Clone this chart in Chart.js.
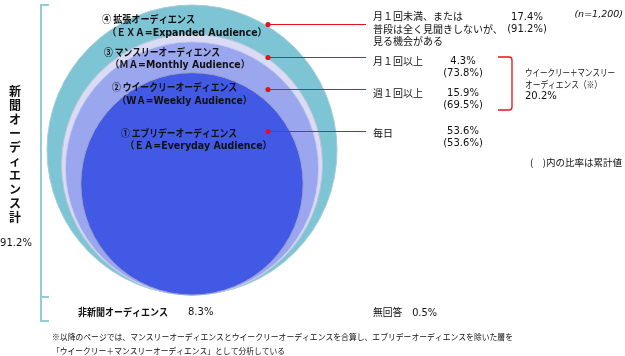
<!DOCTYPE html>
<html><head><meta charset="utf-8">
<script src="https://cdn.jsdelivr.net/npm/chart.js@4"></script>
<style>html,body{margin:0;padding:0;background:#fff}#wrap{position:relative;width:625px;height:356px}</style>
</head><body><div id="wrap"><canvas id="c"></canvas></div>
<script>
// ---- data ----
const categories = ['④ 拡張オーディエンス', '③ マンスリーオーディエンス', '② ウイークリーオーディエンス', '① エブリデーオーディエンス'];
const categoriesEn = ['（ＥＸＡ=Expanded Audience）', '（ＭＡ=Monthly Audience）', '（WＡ=Weekly Audience）', '（ＥＡ=Everyday Audience）'];
const frequencies = [['月１回未満、または', '普段は全く見聞きしないが、', '見る機会がある'], ['月１回以上'], ['週１回以上'], ['毎日']];
const shares = [17.4, 4.3, 15.9, 53.6];
const cumulative = [91.2, 73.8, 69.5, 53.6];
const totalLabel = '新聞オーディエンス計';
const totalValue = 91.2;
const nonAudienceLabel = '非新聞オーディエンス';
const nonAudienceValue = 8.3;
const noAnswerLabel = '無回答';
const noAnswerValue = 0.5;
const combinedLabel = ['ウイークリー＋マンスリー', 'オーディエンス（※）'];
const combinedValue = 20.2;
const sampleNote = '(n=1,200)';
const cumNote = '(　)内の比率は累計値';
const footnotes = ['※以降のページでは、マンスリーオーディエンスとウイークリーオーディエンスを合算し、エブリデーオーディエンスを除いた層を', '「ウイークリー＋マンスリーオーディエンス」として分析している'];

const fillColors = ['#7dc4d5', '#dadcf6', '#9aa6ee', '#4259e6'];
const borderColors = ['#a6ccd4', '#c2c5d6', '#c9cdf3', '#9aa0c8'];

const radii = cumulative.map(v => Math.sqrt(v));
const Rmax = radii[0];

const JP = '"Noto Sans CJK JP", sans-serif';
const MIX = '"DejaVu Sans", "Noto Sans CJK JP", sans-serif';

function txt(ctx, s, x, y, font, opts = {}) {
  ctx.save();
  ctx.font = font;
  ctx.fillStyle = opts.color || '#111';
  ctx.textBaseline = 'middle';
  ctx.textAlign = opts.align || 'left';
  if (opts.w) ctx.fillText(s, x, y, opts.w); else ctx.fillText(s, x, y);
  ctx.restore();
}

const overlay = {
  id: 'overlay',
  afterDraw(chart) {
    const ctx = chart.ctx;
    const lab = [[102, 19, 93, 107, 33, 160], [104, 52, 116, 110, 65, 140], [112, 87, 125, 117, 101, 135], [121, 133, 116, 125, 146, 147]];
    lab.forEach((p, i) => {
      txt(ctx, categories[i], p[0], p[1], 'bold 10.5px ' + JP, {w: p[2]});
      txt(ctx, categoriesEn[i], p[3], p[4], 'bold 10px ' + MIX, {w: p[5]});
    });
    const leadY = [24, 57, 89, 131];
    ctx.save();
    ctx.strokeStyle = '#e8101c'; ctx.fillStyle = '#e8101c'; ctx.lineWidth = 1;
    leadY.forEach(y => {
      ctx.beginPath(); ctx.moveTo(268, y + 0.5); ctx.lineTo(366, y + 0.5); ctx.stroke();
      ctx.beginPath(); ctx.arc(268, y + 0.5, 2.6, 0, Math.PI * 2); ctx.fill();
    });
    ctx.lineWidth = 1.3;
    ctx.beginPath();
    ctx.moveTo(498, 57); ctx.lineTo(509, 57); ctx.quadraticCurveTo(512, 57, 512, 60);
    ctx.lineTo(512, 107); ctx.quadraticCurveTo(512, 110, 509, 110); ctx.lineTo(498, 110);
    ctx.stroke();
    ctx.restore();
    ctx.save();
    ctx.strokeStyle = '#93ccd8'; ctx.lineWidth = 2;
    ctx.beginPath();
    ctx.moveTo(49, 5); ctx.lineTo(41, 5); ctx.lineTo(41, 321); ctx.lineTo(49, 321);
    ctx.moveTo(41, 297); ctx.lineTo(49, 297);
    ctx.stroke();
    ctx.restore();
    const fy = [[16, 29, 41], [61], [93], [133]];
    frequencies.forEach((lines, i) => lines.forEach((s, j) => txt(ctx, s, 373, fy[i][j], '10px ' + JP)));
    const pct = [[527, 17, 29], [463, 61, 73], [463, 93, 105], [463, 131, 143]];
    pct.forEach((p, i) => {
      txt(ctx, shares[i].toFixed(1) + '%', p[0], p[1], '10px ' + MIX, {align: 'center'});
      txt(ctx, '(' + cumulative[i].toFixed(1) + '%)', p[0], p[2], '10px ' + MIX, {align: 'center'});
    });
    txt(ctx, sampleNote, 623, 15, 'italic 9.5px ' + MIX, {align: 'right'});
    txt(ctx, combinedLabel[0], 525, 72, '9.5px ' + JP, {w: 90});
    txt(ctx, combinedLabel[1], 525, 84, '9.5px ' + JP, {w: 77});
    txt(ctx, combinedValue.toFixed(1) + '%', 525, 96, '10px ' + MIX);
    txt(ctx, cumNote, 622, 162, '9.5px ' + JP, {align: 'right', w: 92});
    const chars = Array.from(totalLabel);
    chars.forEach((ch, i) => txt(ctx, ch, 15, 91 + i * 14.1, 'bold 12px ' + JP, {align: 'center'}));
    txt(ctx, totalValue.toFixed(1) + '%', 16, 243, '10px ' + MIX, {align: 'center'});
    txt(ctx, nonAudienceLabel, 78, 312, 'bold 10px ' + JP, {w: 90});
    txt(ctx, nonAudienceValue.toFixed(1) + '%', 188, 312, '10px ' + MIX);
    txt(ctx, noAnswerLabel + '　' + noAnswerValue.toFixed(1) + '%', 373, 313, '10px ' + MIX, {w: 64});
    txt(ctx, footnotes[0], 52, 337, '8.5px ' + JP, {w: 461});
    txt(ctx, footnotes[1], 52, 351, '8.5px ' + JP, {w: 233});
  }
};

const chart = new Chart(document.getElementById('c'), {
  type: 'bubble',
  data: {
    labels: categories,
    datasets: [{
      data: radii.map(r => ({x: 0, y: r, r: 0})),
      backgroundColor: fillColors,
      borderColor: borderColors,
      borderWidth: 1,
      clip: false
    }]
  },
  options: {
    responsive: true,
    maintainAspectRatio: false,
    animation: false,
    events: [],
    layout: {autoPadding: false, padding: {left: 47, right: 288, top: 5, bottom: 61}},
    scales: {
      x: {type: 'linear', display: false, min: -Rmax, max: Rmax},
      y: {type: 'linear', display: false, min: 0, max: 2 * Rmax}
    },
    plugins: {legend: {display: false}, tooltip: {enabled: false}}
  },
  plugins: [overlay]
});
// bubble radius (pixels) taken from the y scale so each circle's area matches its cumulative share
const ys = chart.scales.y;
chart.data.datasets[0].data.forEach((d, i) => { d.r = ys.getPixelForValue(0) - ys.getPixelForValue(radii[i]); });
chart.update('none');
</script></body></html>
